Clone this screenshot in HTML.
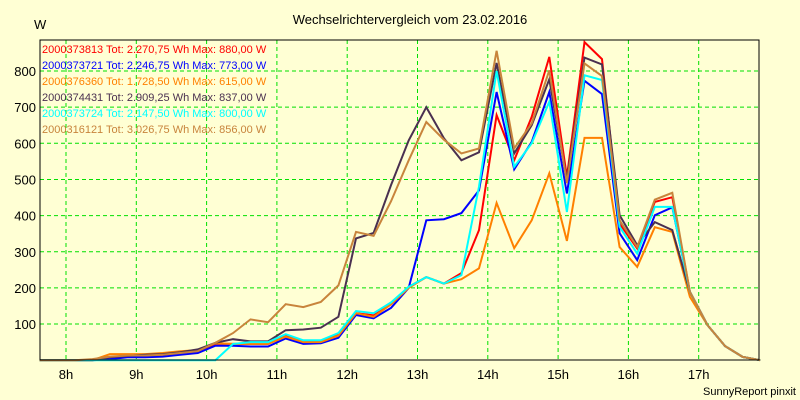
<!DOCTYPE html>
<html><head><meta charset="utf-8"><style>
body{margin:0;background:#ffffd4;}
svg{display:block;font-family:"Liberation Sans",sans-serif;}
</style></head><body>
<svg id="chart" width="800" height="400" viewBox="0 0 800 400" xmlns="http://www.w3.org/2000/svg">
<rect width="800" height="400" fill="#ffffd4"/>
<text x="410" y="24" text-anchor="middle" font-size="13" fill="#000">Wechselrichtervergleich vom 23.02.2016</text>
<text x="34" y="29" font-size="13" fill="#000">W</text>
<g id="grid"></g>
<g id="series"></g>
<rect x="40" y="40" width="719" height="320" fill="none" stroke="#000" stroke-width="1"/>
<g id="axes"></g>
<g id="legend"></g>
<text x="796" y="395" text-anchor="end" font-size="11" fill="#000">SunnyReport pinxit</text>
</svg>
<script>
const hourTicks = [8,9,10,11,12,13,14,15,16,17];
const yTicks = [100,200,300,400,500,600,700,800];
const startHour = 7.625;
const stepHour = 0.25;
const seriesNames = ["2000373813","2000373721","2000376360","2000374431","2000373724","2000316121"];
const seriesTot = ["2.270,75","2.246,75","1.728,50","2.909,25","2.147,50","3.026,75"];
const seriesMax = ["880,00","773,00","615,00","837,00","800,00","856,00"];
const seriesColors = ["#ff0000","#0000ff","#ff8000","#4a3050","#00ffff","#c8843c"];
const valsRed = [0,0,0,0,8,12,14,15,20,25,45,45,45,45,67,50,52,70,130,124,155,203,230,212,241,360,678,553,673,839,507,880,833,378,309,438,451,189,97,39,9,0];
const valsBlue = [0,0,0,0,3,8,8,10,15,20,40,40,38,38,60,45,47,62,125,116,145,200,387,390,407,470,742,528,604,742,461,773,736,351,277,401,423,189,97,39,9,0];
const valsOrange = [0,0,0,0,17,17,17,20,25,28,47,45,45,45,65,50,50,68,130,120,155,200,230,212,224,254,435,310,387,517,330,615,615,313,258,368,355,175,97,39,9,0];
const valsDark = [0,0,0,0,8,12,15,17,22,30,48,58,52,52,83,85,90,120,337,352,485,608,700,614,553,575,822,572,650,777,498,837,818,401,318,382,360,189,97,39,9,0];
const valsCyan = [0,0,0,0,0,0,0,0,0,0,0,45,50,50,72,55,55,75,136,130,160,203,230,212,235,480,800,535,600,715,410,788,775,369,295,424,424,189,97,39,9,0];
const valsBrown = [0,0,0,3,10,13,13,15,20,25,48,75,113,105,155,147,161,207,355,344,440,553,659,610,572,586,856,586,655,802,490,821,786,387,313,444,463,189,97,39,9,0];
const allSeries = [valsRed,valsBlue,valsOrange,valsDark,valsCyan,valsBrown];

const NS="http://www.w3.org/2000/svg";
function xOfHour(h){return 66+(h-8)*70.3;}
function yOfVal(v){return 360.2-v*0.3615;}
function mk(tag,attrs,parent){const e=document.createElementNS(NS,tag);for(const k in attrs)e.setAttribute(k,attrs[k]);parent.appendChild(e);return e;}

const grid=document.getElementById('grid');
const axes=document.getElementById('axes');
hourTicks.forEach(h=>{
  const x=xOfHour(h);
  const l=mk('line',{x1:x,y1:40,x2:x,y2:360,stroke:'#00e000','stroke-dasharray':'4,3','stroke-width':1},grid);
  
  
  const t=mk('text',{x:x,y:379,'text-anchor':'middle','font-size':13,fill:'#000'},axes);
  t.textContent=h+'h';
  
  
});
yTicks.forEach(v=>{
  const y=yOfVal(v);
  const l=mk('line',{x1:40,y1:y,x2:759,y2:y,stroke:'#00e000','stroke-dasharray':'4,3','stroke-width':1},grid);
  
  
  const t=mk('text',{x:36,y:y+5,'text-anchor':'end','font-size':13,fill:'#000'},axes);
  t.textContent=v;
  
  
});
const sg=document.getElementById('series');
allSeries.forEach((vals,si)=>{
  const pts=vals.map((v,i)=>xOfHour(startHour+i*stepHour).toFixed(1)+','+yOfVal(v).toFixed(1)).join(' ');
  const p=mk('polyline',{points:pts,fill:'none',stroke:seriesColors[si],'stroke-width':2,'stroke-linejoin':'miter'},sg);
  
  
});
const lg=document.getElementById('legend');
seriesNames.forEach((n,si)=>{
  const t=mk('text',{x:42,y:53+si*16,'font-size':11,fill:seriesColors[si]},lg);
  t.textContent=n+' Tot: '+seriesTot[si]+' Wh Max: '+seriesMax[si]+' W';
  
  
});
</script>
</body></html>
